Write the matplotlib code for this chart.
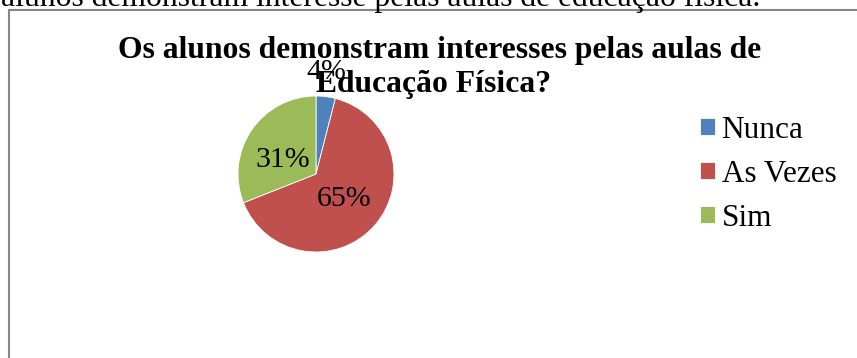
import matplotlib
matplotlib.use("Agg")
import matplotlib.pyplot as plt
from matplotlib.patches import Rectangle
import numpy as np

categories = ["Nunca", "As Vezes", "Sim"]
values = [4, 65, 31]
colors = ["#4F81BD", "#C0504D", "#9BBB59"]
title_lines = ["Os alunos demonstram interesses pelas aulas de", "Educação Física?"]
caption = "alunos demonstram interesse pelas aulas de educação física."

plt.rcParams['font.family'] = ['Liberation Serif', 'DejaVu Serif']

W, H = 857, 358
fig = plt.figure(figsize=(W / 100, H / 100), dpi=100)

def fx(px):
    return px / W

def fy(py):
    return 1 - py / H

# cut-off caption text above the chart box
fig.text(fx(1), fy(6), caption, fontsize=22.8, ha='left', va='baseline', color='black')

# chart border
fig.patches.append(Rectangle((fx(9), fy(370)), fx(900) - fx(9), fy(10) - fy(370),
                             transform=fig.transFigure, fill=False,
                             edgecolor='#868686', linewidth=1.5))

# pie axes
cx, cy, r = 316, 174, 78
ax = fig.add_axes([fx(cx - r), fy(cy + r), 2 * r / W, 2 * r / H])
wedges, _ = ax.pie(values, colors=colors, startangle=90, counterclock=False,
                   radius=1, wedgeprops=dict(edgecolor='white', linewidth=0.6))
ax.set_xlim(-1, 1)
ax.set_ylim(-1, 1)
ax.set_aspect('equal')
ax.axis('off')

# data labels (radius, angle) for Nunca, As Vezes, Sim
label_pos = [(1.31, 84), (0.48, -42), (0.46, 157)]
total = sum(values)
for v, (rr, ang) in zip(values, label_pos):
    a = np.deg2rad(ang)
    ax.text(rr * np.cos(a), rr * np.sin(a), f"{round(100 * v / total)}%",
            ha='center', va='center', fontsize=21.5, clip_on=False, zorder=5)

# title (two lines)
fig.text(fx(440), fy(58), title_lines[0], fontsize=22.8, fontweight='bold',
         ha='center', va='baseline')
fig.text(fx(434), fy(92), title_lines[1], fontsize=22.8, fontweight='bold',
         ha='center', va='baseline')

# legend
leg = fig.legend(wedges, categories, loc='upper left',
                 bbox_to_anchor=(fx(684), fy(100)), frameon=False,
                 fontsize=22.5, handlelength=0.5, handleheight=0.5,
                 handletextpad=0.2, labelspacing=0.48, borderpad=0)

fig.savefig("out.png", dpi=100)
